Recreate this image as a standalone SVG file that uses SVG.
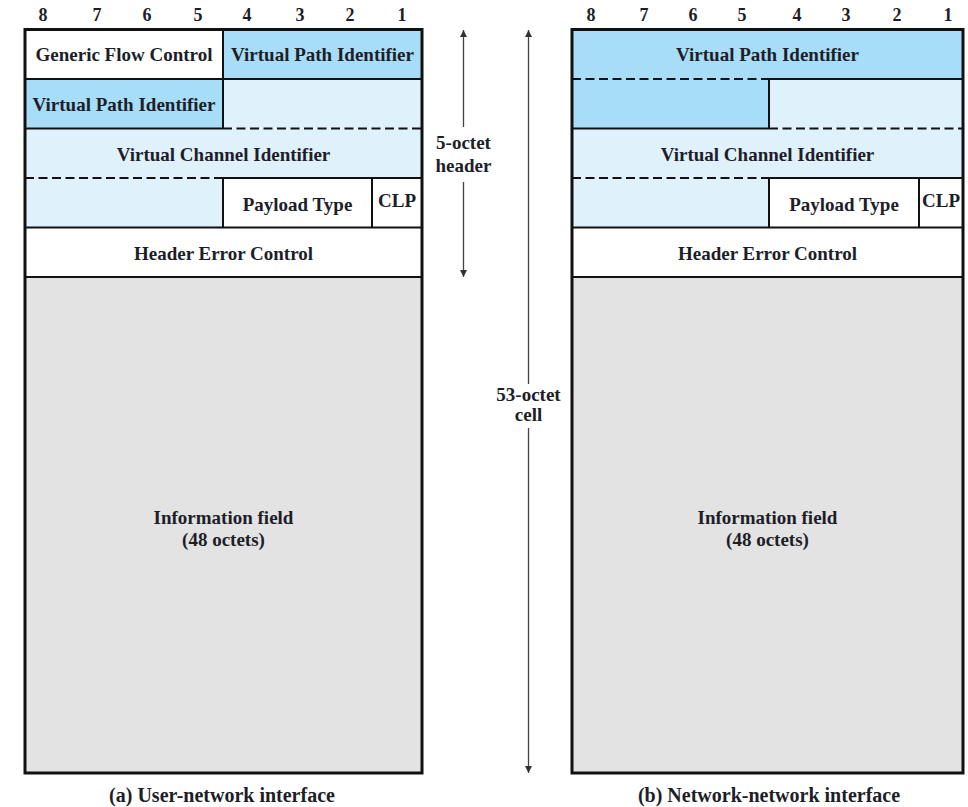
<svg xmlns="http://www.w3.org/2000/svg" width="968" height="807" viewBox="0 0 968 807">
<defs>
<marker id="ah" viewBox="0 0 10 10" refX="10" refY="5" markerWidth="7" markerHeight="10" markerUnits="userSpaceOnUse" orient="auto">
<path d="M0,0 L10,5 L0,10 z" fill="#333"/>
</marker>
</defs>
<style>
text{font-family:"Liberation Serif","Times New Roman",serif;font-weight:bold;fill:#1e1e28;text-anchor:middle}
.f{font-size:19px}
.c{font-size:20px}
.n{font-size:18px}
.dk{fill:#a8ddf8}
.lt{fill:#dff1fb}
.wh{fill:#ffffff}
.gr{fill:#e3e3e3}
.ln{stroke:#111;stroke-width:2;fill:none}
.ds{stroke:#111;stroke-width:2.2;stroke-dasharray:9,4.5;fill:none}
.ob{stroke:#111;stroke-width:3;fill:none}
.ar{stroke:#444;stroke-width:1.3;fill:none}
</style>

<g id="bits-a">
<text class="n" x="43" y="21">8</text><text class="n" x="97" y="21">7</text><text class="n" x="147" y="21">6</text><text class="n" x="198" y="21">5</text>
<text class="n" x="247" y="21">4</text><text class="n" x="300" y="21">3</text><text class="n" x="350" y="21">2</text><text class="n" x="402" y="21">1</text>
</g>
<g id="bits-b">
<text class="n" x="591" y="21">8</text><text class="n" x="644" y="21">7</text><text class="n" x="693" y="21">6</text><text class="n" x="742" y="21">5</text>
<text class="n" x="797" y="21">4</text><text class="n" x="846" y="21">3</text><text class="n" x="897" y="21">2</text><text class="n" x="948" y="21">1</text>
</g>

<g id="uni">
<g id="uni-gfc"><rect class="wh" x="25" y="29.5" width="198" height="49.5"/><text class="f" x="124" y="61">Generic Flow Control</text></g>
<g id="uni-vpi1"><rect class="dk" x="223" y="29.5" width="199" height="49.5"/><text class="f" x="322.5" y="61">Virtual Path Identifier</text></g>
<g id="uni-vpi2"><rect class="dk" x="25" y="79" width="198" height="49.5"/><text class="f" x="124" y="111">Virtual Path Identifier</text></g>
<g id="uni-vci1"><rect class="lt" x="223" y="79" width="199" height="49.5"/></g>
<g id="uni-vci2"><rect class="lt" x="25" y="128.5" width="397" height="49.5"/><text class="f" x="223.5" y="160.5">Virtual Channel Identifier</text></g>
<g id="uni-vci3"><rect class="lt" x="25" y="178" width="198" height="49.5"/></g>
<g id="uni-pt"><rect class="wh" x="223" y="178" width="149" height="49.5"/><text class="f" x="297.5" y="210.5">Payload Type</text></g>
<g id="uni-clp"><rect class="wh" x="372" y="178" width="50" height="49.5"/><text class="f" x="397" y="207">CLP</text></g>
<g id="uni-hec"><rect class="wh" x="25" y="227.5" width="397" height="49.5"/><text class="f" x="223.5" y="260">Header Error Control</text></g>
<g id="uni-info"><rect class="gr" x="25" y="277" width="397" height="496"/><text class="f" x="223.5" y="524">Information field</text><text class="f" x="223.5" y="546">(48 octets)</text></g>
<path class="ln" d="M223,29.5 V128.5 M25,79 H422 M25,128.5 H223 M223,178 H422 M223,178 V227.5 M372,178 V227.5 M25,227.5 H422 M25,277 H422"/>
<path class="ds" d="M223,128.5 H422 M25,178 H223"/>
<rect class="ob" x="25" y="29.5" width="397" height="743.5"/>
</g>

<g id="nni">
<g id="nni-vpi1"><rect class="dk" x="572" y="29.5" width="391" height="49.5"/><text class="f" x="767.5" y="61">Virtual Path Identifier</text></g>
<g id="nni-vpi2"><rect class="dk" x="572" y="79" width="197" height="49.5"/></g>
<g id="nni-vci1"><rect class="lt" x="769" y="79" width="194" height="49.5"/></g>
<g id="nni-vci2"><rect class="lt" x="572" y="128.5" width="391" height="49.5"/><text class="f" x="767.5" y="160.5">Virtual Channel Identifier</text></g>
<g id="nni-vci3"><rect class="lt" x="572" y="178" width="197" height="49.5"/></g>
<g id="nni-pt"><rect class="wh" x="769" y="178" width="150" height="49.5"/><text class="f" x="844" y="210.5">Payload Type</text></g>
<g id="nni-clp"><rect class="wh" x="919" y="178" width="44" height="49.5"/><text class="f" x="941" y="207">CLP</text></g>
<g id="nni-hec"><rect class="wh" x="572" y="227.5" width="391" height="49.5"/><text class="f" x="767.5" y="260">Header Error Control</text></g>
<g id="nni-info"><rect class="gr" x="572" y="277" width="391" height="496"/><text class="f" x="767.5" y="524">Information field</text><text class="f" x="767.5" y="546">(48 octets)</text></g>
<path class="ln" d="M769,79 H963 M572,128.5 H769 M769,79 V128.5 M769,178 H963 M769,178 V227.5 M919,178 V227.5 M572,227.5 H963 M572,277 H963"/>
<path class="ds" d="M572,79 H769 M769,128.5 H963 M572,178 H769"/>
<rect class="ob" x="572" y="29.5" width="391" height="743.5"/>
</g>

<g id="connectors">
<path class="ar" d="M463.5,127 V30" marker-end="url(#ah)"/>
<path class="ar" d="M463.5,182 V277" marker-end="url(#ah)"/>
<path class="ar" d="M528.5,384 V30" marker-end="url(#ah)"/>
<path class="ar" d="M528.5,428 V773" marker-end="url(#ah)"/>
</g>

<g id="labels">
<text class="f" x="463.5" y="149">5-octet</text>
<text class="f" x="463.5" y="172">header</text>
<text class="f" x="528.5" y="401">53-octet</text>
<text class="f" x="528.5" y="421">cell</text>
<text class="c" x="222" y="802">(a) User-network interface</text>
<text class="c" x="769" y="802">(b) Network-network interface</text>
</g>
</svg>
